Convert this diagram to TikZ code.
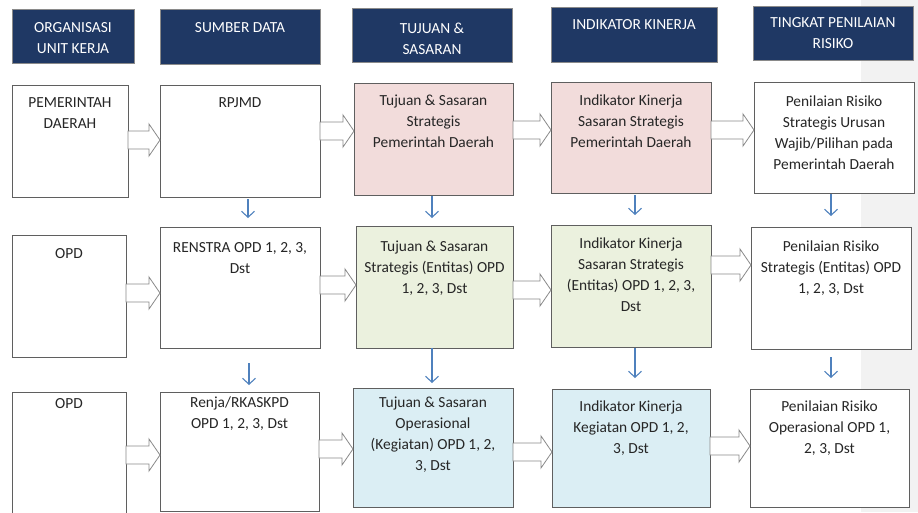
\documentclass[tikz,border=0pt]{standalone}
\usepackage{fontspec}
\setmainfont{Carlito}
\usetikzlibrary{calc,arrows.meta}
\definecolor{navy}{HTML}{1F3864}
\definecolor{pinkf}{HTML}{F2DCDB}
\definecolor{greenf}{HTML}{EBF1DE}
\definecolor{bluef}{HTML}{DBEEF4}
\definecolor{edge}{HTML}{5F5F5F}
\definecolor{hedge}{HTML}{8A8A8A}
\definecolor{arrowblue}{HTML}{4F81BD}
\definecolor{band}{HTML}{F2F2F2}
\definecolor{ink}{HTML}{262626}
\newcommand\bx[8]{%
  \node[#6, anchor=north west, minimum width={#4-#2}, minimum height={#5-#3}] (#1) at (#2,#3) {};
  \node[txt, anchor=north] (#1t) at ($(#1.north)+(0,{#8-#3-7})$) {#7};}
\newcommand\blk[3]{%
  \coordinate (yy) at (0,#3);
  \path (#1.east |- yy) coordinate (s) (#2.west |- yy) coordinate (e);
  \draw[blockarr] ($(s)+(0,-9)$) -- ($(e)+(-11,-9)$) -- ($(e)+(-11,-16)$) -- (e)
     -- ($(e)+(-11,16)$) -- ($(e)+(-11,9)$) -- ($(s)+(0,9)$) -- cycle;}
\newcommand\dwn[5]{%
  \coordinate (xx) at (#3,0);
  \draw[dnarr, shorten <=#4, shorten >=#5] (#1.south -| xx) -- (#2.north -| xx);}
\begin{document}
\begin{tikzpicture}[x=1pt,y=-1pt,
  every node/.style={inner sep=0pt, outer sep=0pt},
  txt/.style={align=center, text=ink, font=\fontsize{15.4}{21}\selectfont},
  hdr/.style={draw=hedge, fill=navy, line width=0.8pt},
  wbox/.style={draw=edge, fill=white, line width=1pt},
  pbox/.style={wbox, fill=pinkf},
  gbox/.style={wbox, fill=greenf},
  bbox/.style={wbox, fill=bluef},
  blockarr/.style={draw=hedge, fill=white, line width=0.8pt, line join=miter},
  dnarr/.style={draw=arrowblue, line width=1.1pt, -{Straight Barb[length=6pt,width=13pt,line width=1.1pt]}}]
\useasboundingbox (0,0) rectangle (918,512);
\fill[band] (861,0) rectangle (918,512);
% headers
\bx{h1}{12}{9}{134}{63}{hdr}{\color{white}ORGANISASI\\\color{white}UNIT KERJA}{30}
\bx{h2}{160}{9}{320}{64}{hdr}{\color{white}SUMBER DATA}{30}
\bx{h3}{352}{8}{512}{62}{hdr}{\color{white}TUJUAN \&\\\color{white}SASARAN}{30}
\bx{h4}{551}{7}{717}{62}{hdr}{\color{white}INDIKATOR KINERJA}{27}
\bx{h5}{753}{6}{913}{60}{hdr}{\color{white}TINGKAT PENILAIAN\\\color{white}RISIKO}{25}
% row 1
\bx{a1}{12}{85}{128}{197}{wbox}{PEMERINTAH\\DAERAH}{105}
\bx{b1}{160}{85}{320}{197}{wbox}{RPJMD}{105}
\bx{c1}{354}{83}{513}{195}{pbox}{Tujuan \& Sasaran\\Strategis\\Pemerintah Daerah}{102}
\bx{d1}{551}{82}{711}{193}{pbox}{Indikator Kinerja\\Sasaran Strategis\\Pemerintah Daerah}{102}
\bx{e1}{754}{82}{914}{193}{wbox}{Penilaian Risiko\\Strategis Urusan\\Wajib/Pilihan pada\\Pemerintah Daerah}{103}
% row 2
\bx{a2}{12}{235}{126}{357}{wbox}{OPD}{256}
\bx{b2}{160}{227}{320}{348}{wbox}{RENSTRA OPD 1, 2, 3,\\Dst}{250}
\bx{c2}{356}{226}{513}{348}{gbox}{Tujuan \& Sasaran\\Strategis (Entitas) OPD\\1, 2, 3, Dst}{248}
\bx{d2}{551}{225}{711}{347}{gbox}{Indikator Kinerja\\Sasaran Strategis\\(Entitas) OPD 1, 2, 3,\\Dst}{245}
\bx{e2}{751}{227}{911}{349}{wbox}{Penilaian Risiko\\Strategis (Entitas) OPD\\1, 2, 3, Dst}{248}
% row 3
\bx{a3}{12}{392}{126}{514}{wbox}{OPD}{405}
\bx{b3}{160}{392}{319}{511}{wbox}{Renja/RKASKPD\\OPD 1, 2, 3, Dst}{404}
\bx{c3}{353}{388}{513}{507}{bbox}{Tujuan \& Sasaran\\Operasional\\(Kegiatan) OPD 1, 2,\\3, Dst}{404}
\bx{d3}{552}{389}{710}{507}{bbox}{Indikator Kinerja\\Kegiatan OPD 1, 2,\\3, Dst}{408}
\bx{e3}{750}{389}{909}{507}{wbox}{Penilaian Risiko\\Operasional OPD 1,\\2, 3, Dst}{408}
% block arrows
\blk{a1}{b1}{140}
\blk{b1}{c1}{131}
\blk{c1}{d1}{130}
\blk{d1}{e1}{130}
\blk{a2}{b2}{293}
\blk{b2}{c2}{285}
\blk{c2}{d2}{290}
\blk{d2}{e2}{265}
\blk{a3}{b3}{455}
\blk{b3}{c3}{449}
\blk{c3}{d3}{452}
\blk{d3}{e3}{446}
% blue down arrows
\dwn{b1}{b2}{248}{2pt}{9pt}
\dwn{c1}{c2}{432}{1pt}{8pt}
\dwn{d1}{d2}{635}{2pt}{10pt}
\dwn{e1}{e2}{831}{1pt}{11pt}
\dwn{b2}{b3}{249}{15pt}{7pt}
\dwn{c2}{c3}{432}{0pt}{5pt}
\dwn{d2}{d3}{635}{1pt}{11pt}
\dwn{e2}{e3}{831}{8pt}{11pt}
\end{tikzpicture}
\end{document}
